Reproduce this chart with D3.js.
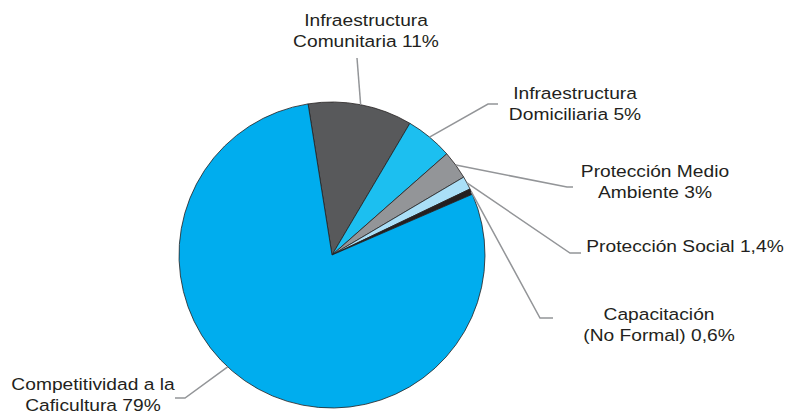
<!DOCTYPE html>
<html>
<head>
<meta charset="utf-8">
<script src="https://cdn.jsdelivr.net/npm/d3@7"></script>
<style>
  body { margin: 0; background: #fff; }
  svg { display: block; font-family: "Liberation Sans", Arial, sans-serif; }
</style>
</head>
<body>
<script>
// Data
const categories = [
  "Infraestructura Comunitaria",
  "Infraestructura Domiciliaria",
  "Protección Medio Ambiente",
  "Protección Social",
  "Capacitación (No Formal)",
  "Competitividad a la Caficultura"
];
const values = [11, 5, 3, 1.4, 0.6, 79];
const labelLines = [
  ["Infraestructura", "Comunitaria 11%"],
  ["Infraestructura", "Domiciliaria 5%"],
  ["Protección Medio", "Ambiente 3%"],
  ["Protección Social 1,4%"],
  ["Capacitación", "(No Formal) 0,6%"],
  ["Competitividad a la", "Caficultura 79%"]
];
const colors = ["#58595b", "#1cbff0", "#939598", "#aadff7", "#231f20", "#00adee"];

const w = 788;
const h = 415;
const cx = 332;
const cy = 255;
const r = 153;
const start = -9 * Math.PI / 180;
const stretch = 1.13; // source font is wider than Arial

// label placement: text centre x, first baseline y, elbow point, end of leader
const layout = [
  { tx: 366, ty: 26, elbow: [357, 58], end: [357, 58] },
  { tx: 575, ty: 99, elbow: [488, 104], end: [498, 104] },
  { tx: 655, ty: 177, elbow: [567, 187], end: [573, 187] },
  { tx: 685, ty: 252, elbow: [570, 253], end: [581, 253] },
  { tx: 659, ty: 320, elbow: [540, 318], end: [553, 318] },
  { tx: 93, ty: 390, elbow: [185, 398], end: [175, 398], angle: 223 }
];

const dataset = categories.map((c, i) => ({ name: c, value: values[i], lines: labelLines[i], color: colors[i], pos: layout[i] }));

const svg = d3.select("body").append("svg").attr("width", w).attr("height", h);

const pie = d3.pie().sort(null).value((d) => d.value)
  .startAngle(start).endAngle(start + 2 * Math.PI);
const arc = d3.arc().innerRadius(0).outerRadius(r);

const g = svg.append("g").attr("transform", `translate(${cx},${cy})`);
const arcs = pie(dataset);

g.selectAll("path")
  .data(arcs)
  .enter()
  .append("path")
  .attr("d", arc)
  .attr("fill", (d) => d.data.color)
  .attr("stroke", "#231f20")
  .attr("stroke-width", 0.8)
  .attr("stroke-linejoin", "round");

// leader lines
svg.selectAll("polyline.leader")
  .data(arcs)
  .enter()
  .append("polyline")
  .attr("class", "leader")
  .attr("fill", "none")
  .attr("stroke", "#939598")
  .attr("stroke-width", 1.5)
  .attr("points", (d) => {
    const a = d.data.pos.angle != null ? d.data.pos.angle * Math.PI / 180 : (d.startAngle + d.endAngle) / 2;
    const x0 = cx + r * Math.sin(a);
    const y0 = cy - r * Math.cos(a);
    const p = d.data.pos;
    return [[x0, y0], p.elbow, p.end].map((q) => q.join(",")).join(" ");
  });

// labels
const lbl = svg.selectAll("text.lbl")
  .data(arcs)
  .enter()
  .append("text")
  .attr("class", "lbl")
  .attr("text-anchor", "middle")
  .attr("font-size", "17px")
  .attr("fill", "#231f20")
  .attr("transform", (d) => `translate(${d.data.pos.tx},0) scale(${stretch},1)`);

lbl.selectAll("tspan")
  .data((d) => d.data.lines.map((t, i) => ({ t, i, p: d.data.pos })))
  .enter()
  .append("tspan")
  .attr("x", 0)
  .attr("y", (d) => d.p.ty + d.i * 21.5)
  .text((d) => d.t);
</script>
</body>
</html>
